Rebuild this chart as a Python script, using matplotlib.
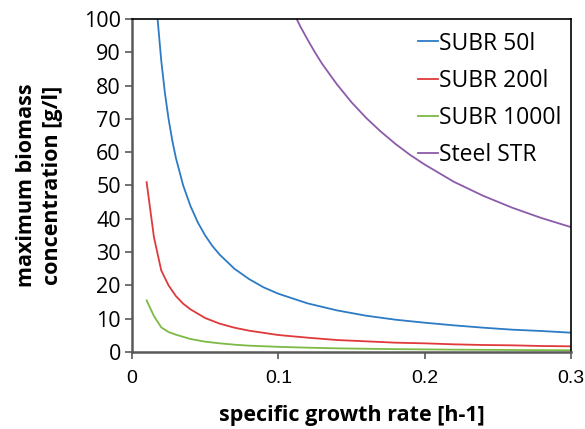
import matplotlib
matplotlib.use("Agg")
import matplotlib.pyplot as plt

mu_50 = [0.0150, 0.0175, 0.0200, 0.0225, 0.0250, 0.0275, 0.030, 0.035, 0.040, 0.045,
         0.050, 0.055, 0.060, 0.070, 0.080, 0.090, 0.100, 0.120, 0.140, 0.160,
         0.180, 0.200, 0.220, 0.240, 0.260, 0.280, 0.300]
subr_50 = [116.7, 100.0, 87.5, 77.8, 70.0, 63.6, 58.3, 50.0, 43.8, 38.9,
           35.0, 31.8, 29.2, 25.0, 21.9, 19.4, 17.5, 14.6, 12.5, 10.9,
           9.7, 8.8, 8.0, 7.3, 6.7, 6.3, 5.8]
mu_200 = [0.010, 0.015, 0.020, 0.025, 0.030, 0.035, 0.040, 0.050, 0.060, 0.070,
          0.080, 0.100, 0.120, 0.140, 0.160, 0.180, 0.200, 0.220, 0.240, 0.260,
          0.280, 0.300]
subr_200 = [51.0, 34.5, 24.5, 20.0, 16.8, 14.5, 12.8, 10.2, 8.5, 7.3,
            6.4, 5.1, 4.3, 3.6, 3.2, 2.8, 2.6, 2.3, 2.1, 2.0,
            1.8, 1.7]
mu_1000 = [0.010, 0.015, 0.020, 0.025, 0.030, 0.040, 0.050, 0.060, 0.070, 0.080,
           0.100, 0.120, 0.140, 0.160, 0.180, 0.200, 0.220, 0.240, 0.260, 0.280,
           0.300]
subr_1000 = [15.5, 10.8, 7.4, 6.0, 5.2, 3.9, 3.1, 2.6, 2.2, 1.9,
             1.55, 1.3, 1.1, 0.97, 0.86, 0.78, 0.70, 0.65, 0.60, 0.55,
             0.52]
mu_steel = [0.105, 0.110, 0.115, 0.120, 0.125, 0.130, 0.140, 0.150, 0.160, 0.170,
            0.180, 0.190, 0.200, 0.220, 0.240, 0.260, 0.280, 0.300]
steel_str = [107.1, 102.3, 97.8, 93.8, 90.0, 86.5, 80.4, 75.0, 70.3, 66.2,
             62.5, 59.2, 56.3, 51.1, 46.9, 43.3, 40.2, 37.5]
labels = ["SUBR 50l", "SUBR 200l", "SUBR 1000l", "Steel STR"]
colors = ["#2C7BC4", "#E0393B", "#7CBA45", "#8C5BAA"]
xticks = [0, 0.1, 0.2, 0.3]
xticklabels = ["0", "0.1", "0.2", "0.3"]
yticks = [0, 10, 20, 30, 40, 50, 60, 70, 80, 90, 100]

plt.rcParams['font.family'] = ['Open Sans', 'DejaVu Sans']

fig = plt.figure(figsize=(5.85, 4.29), dpi=100)
ax = fig.add_axes([0.2256, 0.1795, 0.9761 - 0.2256, 0.9557 - 0.1795])

series = [(mu_50, subr_50), (mu_200, subr_200), (mu_1000, subr_1000), (mu_steel, steel_str)]
for (x, y), lab, c in zip(series, labels, colors):
    ax.plot(x, y, color=c, lw=1.3, label=lab)

ax.set_xlim(0, 0.3)
ax.set_ylim(0, 100)
ax.set_xticks(xticks)
ax.set_xticklabels(xticklabels, family=['Liberation Sans', 'DejaVu Sans'])
ax.set_yticks(yticks)
ax.tick_params(axis='both', direction='out', length=5, width=1.2, color='#595959')
ax.tick_params(axis='y', labelsize=15.5, pad=3)
ax.tick_params(axis='x', labelsize=14, pad=8)
for s in ['left', 'bottom']:
    ax.spines[s].set_color('#595959')
    ax.spines[s].set_linewidth(1.8)
for s in ['top', 'right']:
    ax.spines[s].set_color('black')
    ax.spines[s].set_linewidth(1.2)

ax.set_xlabel("specific growth rate [h-1]", fontsize=15.5, fontweight='bold', labelpad=13)
ax.set_ylabel("maximum biomass\nconcentration [g/l]", fontsize=15.5, fontweight='bold',
              labelpad=15, linespacing=1.3)

leg = ax.legend(loc='upper right', frameon=False, fontsize=16.5, handlelength=0.9,
                handletextpad=0.05, labelspacing=0.58, borderaxespad=0.0,
                bbox_to_anchor=(1.0, 0.99))

fig.savefig("out.png", dpi=100)
